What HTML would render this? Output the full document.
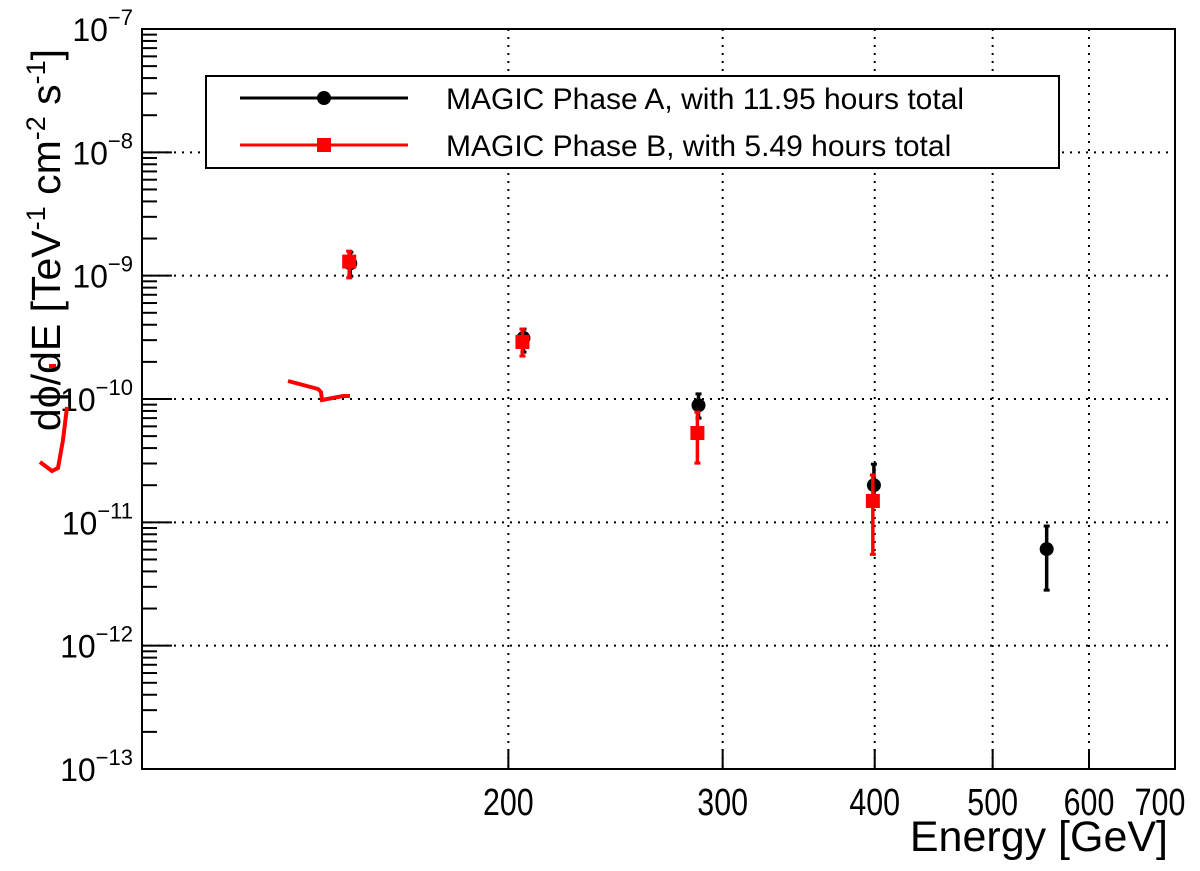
<!DOCTYPE html>
<html><head><meta charset="utf-8"><style>
html,body{margin:0;padding:0;background:#fff;}
svg{display:block;font-family:"Liberation Sans",sans-serif;}
</style></head><body>
<svg id="chart" width="1200" height="871" viewBox="0 0 1200 871">
<g id="grid"></g>
<g id="axes"></g>
<g id="marks"></g>
<g fill="none" stroke="#f00" stroke-width="4">
<path d="M40,462 L52,471 L58,468 L63,440 L67,407"/>
<path d="M49,366 L56,366"/>
<path d="M288,381 L318,389 L321,392 L322,400 L343,396 L350,396"/>
</g>
<text x="1168" y="851" text-anchor="end" font-size="43">Energy [GeV]</text>
<text transform="translate(60,240) rotate(-90)" text-anchor="middle" font-size="41">dϕ/dE [TeV<tspan dy="-15" font-size="27">-1</tspan><tspan dy="15"> cm</tspan><tspan dy="-15" font-size="27">-2</tspan><tspan dy="15"> s</tspan><tspan dy="-15" font-size="27">-1</tspan><tspan dy="15">]</tspan></text>
<g>
<rect x="206" y="76" width="853" height="92" fill="#fff" stroke="#000" stroke-width="2"/>
<g>
<line x1="240" y1="98" x2="408" y2="98" stroke="#000" stroke-width="3"/>
<circle cx="324" cy="98" r="7" fill="#000"/>
<text x="446" y="109" font-size="30">MAGIC Phase A, with 11.95 hours total</text>
</g>
<g>
<line x1="240" y1="145" x2="408" y2="145" stroke="#f00" stroke-width="3"/>
<rect x="317" y="138" width="14" height="14" fill="#f00"/>
<text x="446" y="156" font-size="30">MAGIC Phase B, with 5.49 hours total</text>
</g>
</g>
</svg>
<script>
const energyA=[148.3,205.8,286.6,399.4,553.8];
const fluxA=[1.26e-9,3.12e-10,8.9e-11,2.0e-11,6.07e-12];
const fluxAHi=[1.55e-9,3.69e-10,1.10e-10,2.96e-11,9.33e-12];
const fluxALo=[0.99e-9,2.4e-10,7.0e-11,1.4e-11,2.82e-12];
const energyB=[148.0,205.4,286.0,398.6];
const fluxB=[1.3e-9,2.9e-10,5.3e-11,1.49e-11];
const fluxBHi=[1.58e-9,3.69e-10,7.83e-11,2.42e-11];
const fluxBLo=[9.6e-10,2.23e-10,3.02e-11,5.5e-12];
const xTicks=[200,300,400,500,600,700];
const yDecades=[-13,-12,-11,-10,-9,-8,-7];

const L=142,R=1175,T=29,B=769;
const X0=2,X1=Math.log10(706),Y0=-13,Y1=-7;
const xs=v=>L+(Math.log10(v)-X0)/(X1-X0)*(R-L);
const ys=v=>B-(Math.log10(v)-Y0)/(Y1-Y0)*(B-T);
const NS='http://www.w3.org/2000/svg';
function mk(tag,attrs,parent){const e=document.createElementNS(NS,tag);for(const k in attrs)e.setAttribute(k,attrs[k]);parent.appendChild(e);return e;}
const grid=document.getElementById('grid'),axes=document.getElementById('axes'),marks=document.getElementById('marks');

xTicks.forEach(t=>{
  const x=xs(t);
  if(t<700){
  const g=mk('line',{x1:x,x2:x,y1:T,y2:B,stroke:'#000','stroke-width':2,'stroke-dasharray':'2 6'},grid);
  
  
  mk('line',{x1:x,x2:x,y1:B,y2:B-20,stroke:'#000','stroke-width':2},axes);}
  const lx=(t===700)?1160:x;
  const lb=mk('text',{x:0,y:0,'text-anchor':'middle','font-size':38,transform:'translate('+lx+',815) scale(0.8,1)'},axes);
  lb.textContent=t;
  
  
});
yDecades.forEach(d=>{
  const y=ys(Math.pow(10,d));
  if(d>-13&&d<-7){
    const g=mk('line',{x1:L,x2:R,y1:y,y2:y,stroke:'#000','stroke-width':2,'stroke-dasharray':'2 6'},grid);
    
    
  }
  mk('line',{x1:L,x2:L+30,y1:y,y2:y,stroke:'#000','stroke-width':2},axes);
  if(d<-7){for(let m=2;m<=9;m++){const yy=ys(m*Math.pow(10,d));mk('line',{x1:L,x2:L+15,y1:yy,y2:yy,stroke:'#000','stroke-width':2},axes);}}
  const lb=mk('text',{x:133,y:y+12,'font-size':32,'text-anchor':'end'},axes);
  lb.innerHTML='10<tspan dy="-16" font-size="22">\u2212'+(-d)+'</tspan>';
  
  
});
const frame=mk('rect',{x:L,y:T,width:R-L,height:B-T,fill:'none',stroke:'#000','stroke-width':2},axes);



function series(E,F,Hi,Lo,col,shape,name){
  E.forEach((e,i)=>{
    const x=xs(e),y=ys(F[i]),yh=ys(Hi[i]),yl=ys(Lo[i]);
    const g=mk('g',{},marks);
    
    
    mk('line',{x1:x,x2:x,y1:yh,y2:yl,stroke:col,'stroke-width':3.5},g);
    mk('line',{x1:x-3,x2:x+3,y1:yh,y2:yh,stroke:col,'stroke-width':3},g);
    mk('line',{x1:x-3,x2:x+3,y1:yl,y2:yl,stroke:col,'stroke-width':3},g);
    if(shape==='c')mk('circle',{cx:x,cy:y,r:7,fill:col},g);
    else mk('rect',{x:x-7,y:y-7,width:14,height:14,fill:col},g);
  });
}
series(energyA,fluxA,fluxAHi,fluxALo,'#000','c','phase-a');
series(energyB,fluxB,fluxBHi,fluxBLo,'#f00','s','phase-b');
</script>
</body></html>
